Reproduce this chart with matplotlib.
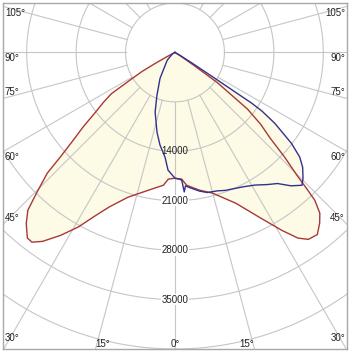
import numpy as np
import matplotlib.pyplot as plt

plt.rcParams['font.family'] = ['Liberation Sans', 'DejaVu Sans']

# gamma angle in degrees (0 = straight down) and luminous intensity in cd
# red plane, right half and left half
red_right_deg = [0, 3, 5, 10, 15, 22, 27, 31, 33.5, 35.5, 38, 40.3, 42, 43.4, 44, 44.8,
                 46.3, 48, 50, 52, 54.5, 55.5, 57, 60, 90]
red_right_cd = [17820, 17960, 18880, 19800, 20640, 23050, 26160, 29410, 31530, 32520, 32730,
                31670, 30640, 28800, 26870, 24460, 21490, 18100, 15840, 13010, 7350, 3540,
                1130, 0, 0]
red_left_deg = [0, 3, 5, 9, 13, 18, 23, 26, 29, 32, 35, 37, 38.5, 41, 43, 44.6, 46.6, 47.6,
                49, 51, 53, 55, 57, 58.5, 60, 61, 62, 64, 70, 90]
red_left_cd = [17820, 17960, 18880, 19510, 20310, 21560, 23760, 25730, 28280, 30540, 32660,
               33650, 33580, 32100, 30540, 27860, 24890, 22060, 19370, 16690, 14140, 12440,
               10750, 7350, 5370, 3110, 1410, 420, 0, 0]

# blue plane
blue_right_deg = [0, 2, 3, 3.8, 4.5, 6, 10, 13, 17, 20, 24, 27, 31, 35, 38, 41, 43.7, 45.4,
                  48, 50, 52, 54.6, 56, 56.5, 57, 58, 60, 65, 90]
blue_right_cd = [17820, 17960, 18100, 19800, 18950, 19230, 19940, 20360, 20500, 20790, 21070,
                 21350, 21920, 22840, 23560, 25030, 26020, 25450, 24320, 23050, 20930, 17340,
                 14850, 13010, 6790, 2830, 710, 0, 0]
blue_left_deg = [0, 3.4, 5.4, 9.2, 12.7, 18.4, 22.7, 30, 45, 60, 75, 90]
blue_left_cd = [17820, 16690, 14920, 13290, 11590, 8910, 6650, 4240, 1560, 420, 0, 0]

ring_values = [7000, 14000, 21000, 28000, 35000, 42000, 49000]
ring_labels = ["14000", "21000", "28000", "35000"]
side_labels = ["105°", "90°", "75°", "60°", "45°", "30°"]
side_label_y = [5515, -850, -5660, -14850, -23470, -40440]
bottom_labels = ["15°", "0°", "15°"]
bottom_label_x = [-10180, 0, 10180]


def to_xy(left_deg, left_cd, right_deg, right_cd):
    g = np.concatenate([-np.array(left_deg)[::-1], np.array(right_deg)[1:]])
    i = np.concatenate([np.array(left_cd)[::-1], np.array(right_cd)[1:]])
    t = np.radians(g)
    return i * np.sin(t), -i * np.cos(t)


fig = plt.figure(figsize=(3.51, 3.54), dpi=100)
ax = fig.add_axes([3 / 351, 5 / 354, 344 / 351, 346 / 354])
xmax = 24350
ax.set_xlim(-xmax, xmax)
ax.set_ylim(-42000, 7000)
ax.set_xticks([])
ax.set_yticks([])
for s in ax.spines.values():
    s.set_color('#a8a8a8')
    s.set_linewidth(1.0)

# light fill under both planes (union, same tint everywhere)
rx, ry = to_xy(red_left_deg, red_left_cd, red_right_deg, red_right_cd)
bx, by = to_xy(blue_left_deg, blue_left_cd, blue_right_deg, blue_right_cd)
ax.fill(rx, ry, color='#fdfae6', lw=0, zorder=1)
ax.fill(bx, by, color='#fdfae6', lw=0, zorder=1)

grid_c = '#c6c6c6'
t = np.linspace(0, 2 * np.pi, 400)
for r in ring_values:
    ax.plot(r * np.cos(t), r * np.sin(t), color=grid_c, lw=0.8, zorder=2)
for a in np.arange(0, 360, 15):
    ar = np.radians(a)
    ax.plot([7000 * np.sin(ar), 80000 * np.sin(ar)],
            [-7000 * np.cos(ar), -80000 * np.cos(ar)], color=grid_c, lw=0.8, zorder=2)

ax.plot(rx, ry, color='#a83838', lw=1.0, zorder=3)
ax.plot(bx, by, color='#32328c', lw=1.0, zorder=3)

for k, lab in enumerate(ring_labels):
    r = ring_values[k + 1]
    box = None if k == 0 else dict(facecolor='white', edgecolor='none', pad=0.3)
    ax.text(0, -r, lab, ha='center', va='center', fontsize=7, color='#222222',
            bbox=box, zorder=4)

for lab, y in zip(side_labels, side_label_y):
    ax.text(-xmax + 280, y, lab, ha='left', va='center', fontsize=7, color='#222222', zorder=4)
    ax.text(xmax - 280, y, lab, ha='right', va='center', fontsize=7, color='#222222', zorder=4)
for lab, x in zip(bottom_labels, bottom_label_x):
    ax.text(x, -41290, lab, ha='center', va='center', fontsize=7, color='#222222', zorder=4)

fig.savefig('out.png', dpi=100)
